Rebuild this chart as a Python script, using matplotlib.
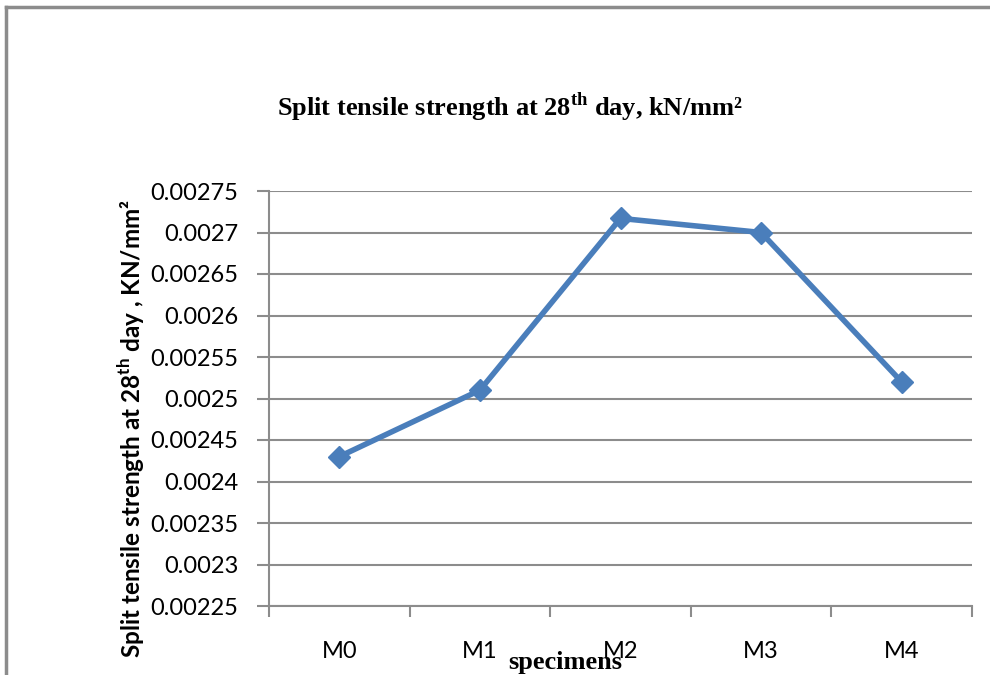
import matplotlib
matplotlib.use("Agg")
import matplotlib.pyplot as plt
from matplotlib.lines import Line2D

specimens = ["M0", "M1", "M2", "M3", "M4"]
strength = [0.00243, 0.00251, 0.002717, 0.00270, 0.00252]
y_ticks = [0.00225, 0.0023, 0.00235, 0.0024, 0.00245, 0.0025, 0.00255, 0.0026, 0.00265, 0.0027, 0.00275]
y_tick_labels = ["0.00225", "0.0023", "0.00235", "0.0024", "0.00245", "0.0025",
                 "0.00255", "0.0026", "0.00265", "0.0027", "0.00275"]

plt.rcParams['mathtext.fontset'] = 'custom'
plt.rcParams['mathtext.rm'] = 'Liberation Serif:bold'
plt.rcParams['mathtext.sf'] = 'Lato:bold'

W, H = 990, 675
fig = plt.figure(figsize=(W/100, H/100), dpi=100)
fig.patch.set_facecolor('white')

# outer chart frame (left and top edges visible)
fig.add_artist(Line2D([6/W, 6/W], [0, 1 - 7/H], transform=fig.transFigure, color='#8c8c8c', lw=2.5))
fig.add_artist(Line2D([6/W, 1], [1 - 7/H, 1 - 7/H], transform=fig.transFigure, color='#8c8c8c', lw=2.5))

ax = fig.add_axes([269/W, 1 - 606/H, (972-269)/W, (606-191)/H])
x = list(range(len(specimens)))
ax.plot(x, strength, color='#4A7EBB', lw=4, marker='D', markersize=11,
        markerfacecolor='#4A7EBB', markeredgecolor='#4A7EBB', zorder=3, clip_on=False)

ax.set_xlim(-0.5, len(specimens) - 0.5)
ax.set_ylim(y_ticks[0], y_ticks[-1])
ax.set_yticks(y_ticks)
ax.set_yticklabels(y_tick_labels, fontfamily='Lato', fontsize=17)
ax.yaxis.grid(True, color='#8c8c8c', lw=1.5)
ax.set_axisbelow(True)

ax.set_xticks([i - 0.5 for i in range(len(specimens) + 1)])
ax.set_xticklabels([])
ax.set_xticks(x, minor=True)
ax.set_xticklabels(specimens, minor=True, fontfamily='Lato', fontsize=17)
ax.tick_params(axis='x', which='major', length=8, width=1.5, color='#8c8c8c', direction='out')
ax.tick_params(axis='x', which='minor', length=0, pad=25)
ax.tick_params(axis='y', length=9, width=1.5, color='#8c8c8c', pad=13)

for s in ['top', 'right']:
    ax.spines[s].set_visible(False)
for s in ['left', 'bottom']:
    ax.spines[s].set_color('#8c8c8c')
    ax.spines[s].set_linewidth(1.5)

fig.text(510/W, 1 - 107/H, r'Split tensile strength at 28$^{\mathrm{th}}$ day, kN/mm²',
         fontfamily='Liberation Serif', fontweight='bold', fontsize=19, ha='center', va='center')
fig.text(131/W, 1 - 428/H, r'Split tensile strength at 28$^{\mathsf{th}}$ day , KN/mm²',
         fontfamily='Lato', fontweight='bold', fontsize=17.5, rotation=90, ha='center', va='center')
fig.text(565/W, 1 - 663/H, 'specimens', fontfamily='Liberation Serif', fontweight='bold',
         fontsize=19, ha='center', va='center')

fig.savefig('out.png', dpi=100, facecolor='white')
